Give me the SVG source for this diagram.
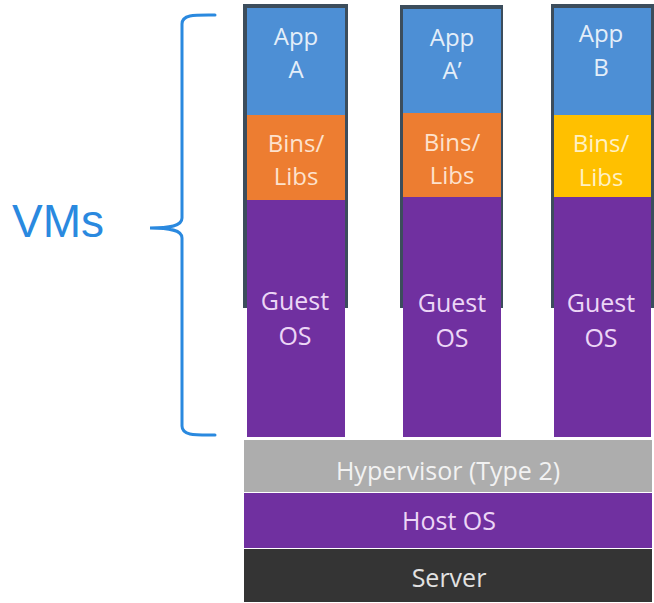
<svg xmlns="http://www.w3.org/2000/svg" width="654" height="603" viewBox="0 0 654 603">
  <style>
    .lbl { font-family: "Open Sans", "Liberation Sans", sans-serif; text-anchor: middle; }
    .edge { fill: #3c4d5c; }
    .app { fill: #4d8fd5; }
    .orange { fill: #ed7d31; }
    .yellow { fill: #ffc000; }
    .purple { fill: #7030a0; }
    .t-app { fill: #e4eef9; font-size: 24px; }
    .t-org { fill: #fde2cd; font-size: 24px; }
    .t-yel { fill: #fff1c4; font-size: 24px; }
    .t-pur { fill: #ecd6f6; font-size: 25px; }
  </style>
  <rect width="654" height="603" fill="#ffffff"/>

  <!-- VM bracket -->
  <g id="vms-brace">
    <path d="M215,15 C196,15 182,14 182,24 L182,218 C182,226 170,228 150,228 C170,228 182,230 182,238 L182,426 C182,436 196,435 215,435"
          fill="none" stroke="#2a89df" stroke-width="3" stroke-linecap="round"/>
    <text x="12" y="237" font-family="'Liberation Sans', Arial, sans-serif" font-size="46" fill="#2a89df">VMs</text>
  </g>

  <!-- VM stack 1 -->
  <g id="vm-a">
    <rect class="edge" x="243" y="4" width="105" height="304"/>
    <rect class="app" x="247" y="8" width="98" height="107"/>
    <rect class="orange" x="247" y="115" width="98" height="85"/>
    <rect class="purple" x="247" y="200" width="98" height="237"/>
    <text class="lbl t-app" x="296" y="45">App</text>
    <text class="lbl t-app" x="296" y="78">A</text>
    <text class="lbl t-org" x="296" y="152">Bins/</text>
    <text class="lbl t-org" x="296" y="185">Libs</text>
    <text class="lbl t-pur" x="295" y="310">Guest</text>
    <text class="lbl t-pur" x="295" y="345">OS</text>
  </g>

  <!-- VM stack 2 -->
  <g id="vm-a-prime">
    <rect class="edge" x="400" y="5" width="103" height="303"/>
    <rect class="app" x="403" y="9" width="98" height="104"/>
    <rect class="orange" x="403" y="113" width="98" height="84"/>
    <rect class="purple" x="403" y="197" width="98" height="240"/>
    <text class="lbl t-app" x="452" y="46">App</text>
    <text class="lbl t-app" x="452" y="79">A’</text>
    <text class="lbl t-org" x="452" y="151">Bins/</text>
    <text class="lbl t-org" x="452" y="184">Libs</text>
    <text class="lbl t-pur" x="452" y="312">Guest</text>
    <text class="lbl t-pur" x="452" y="347">OS</text>
  </g>

  <!-- VM stack 3 -->
  <g id="vm-b">
    <rect class="edge" x="551" y="4" width="103" height="304"/>
    <rect class="app" x="554" y="8" width="97" height="107"/>
    <rect class="yellow" x="554" y="115" width="97" height="82"/>
    <rect class="purple" x="554" y="197" width="97" height="240"/>
    <text class="lbl t-app" x="601" y="42">App</text>
    <text class="lbl t-app" x="601" y="76">B</text>
    <text class="lbl t-yel" x="601" y="152">Bins/</text>
    <text class="lbl t-yel" x="601" y="186">Libs</text>
    <text class="lbl t-pur" x="601" y="312">Guest</text>
    <text class="lbl t-pur" x="601" y="347">OS</text>
  </g>

  <!-- Shared layers -->
  <g id="hypervisor">
    <rect x="244" y="440" width="408" height="52" fill="#adadad"/>
    <text class="lbl" x="448" y="480" font-size="25" fill="#f2f2f2">Hypervisor (Type 2)</text>
  </g>
  <g id="host-os">
    <rect x="244" y="493" width="408" height="55" fill="#7030a0"/>
    <text class="lbl" x="449" y="530" font-size="25" fill="#ecd6f6">Host OS</text>
  </g>
  <g id="server">
    <rect x="244" y="549" width="408" height="53" fill="#343434"/>
    <text class="lbl" x="449" y="587" font-size="25" fill="#e2e2e2">Server</text>
  </g>

  <g id="connectors"/>
</svg>
